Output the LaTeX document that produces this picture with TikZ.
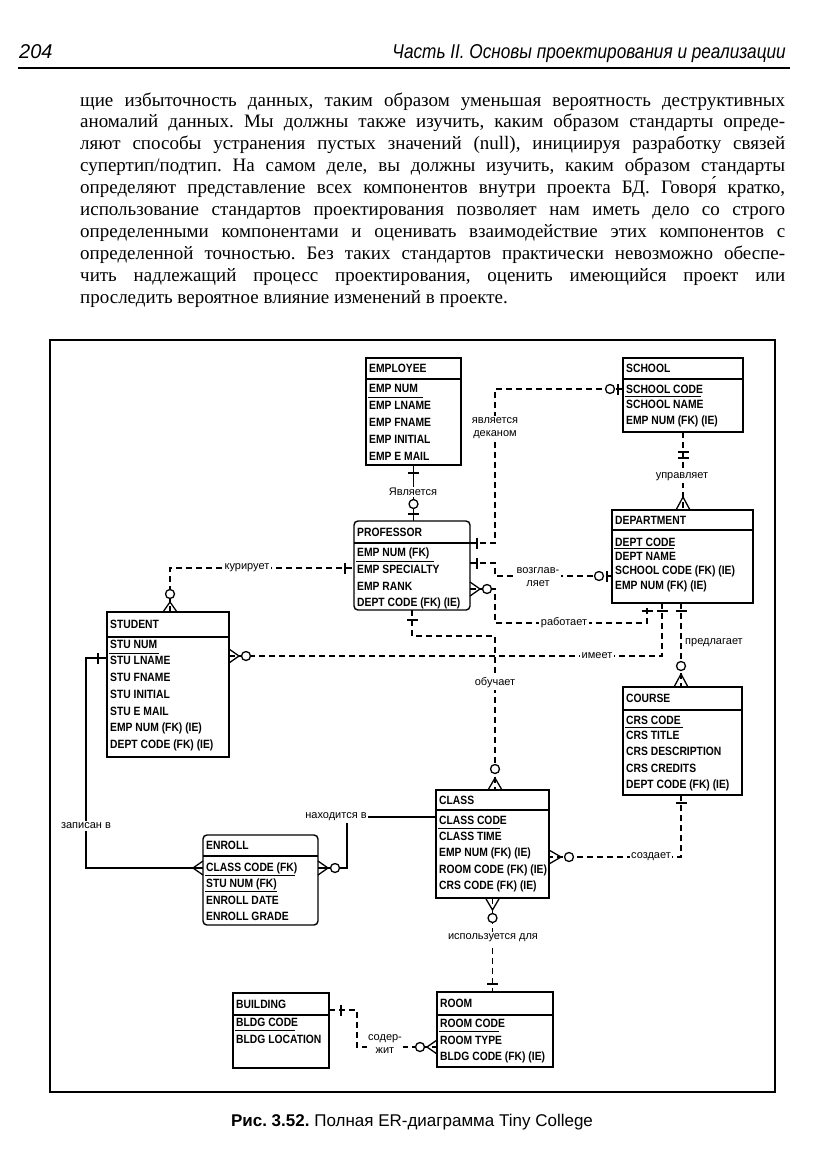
\documentclass[tikz,border=0pt]{standalone}
\usepackage{fontspec}
\setmainfont{Liberation Serif}
\newfontfamily\hsans{Liberation Sans}
\newfontfamily\efam[FakeStretch=0.86]{Liberation Sans}
\usetikzlibrary{calc}
\frenchspacing
\tikzset{
  ebox/.style={draw, line width=1.4pt, inner sep=0pt, outer sep=0pt, anchor=north west},
  etxt/.style={font=\efam\bfseries\fontsize{12}{12}\selectfont, anchor=west, inner sep=0pt},
  divline/.style={line width=1.1pt},
  ulline/.style={line width=0.9pt},
  rel/.style={line width=1.2pt},
  reld/.style={line width=1.2pt, dash pattern=on 6pt off 4pt},
  mk/.style={line width=1.3pt, solid},
  lbl/.style={font=\hsans\fontsize{11}{12.5}\selectfont, fill=white, inner sep=1.5pt, align=center},
  bodytxt/.style={font=\fontsize{19}{22}\selectfont, anchor=base west, inner sep=0pt},
  pics/onebar/.style={code={\draw[mk] (#1,-5.5) -- (#1,5.5);}},
  pics/crow/.style={code={\draw[mk] (0,-7) -- (#1,0) -- (0,7);}},
  pics/zc/.style={code={\draw[mk,fill=white] (#1,0) circle (4.5pt);}},
}
\newcommand\mkentity[8][]{%
  \node[ebox,#1,minimum width=#5pt,minimum height=#6pt] (#2) at (#3,#4) {};
  \draw[divline] ($(#2.north west)+(0,#7)$) -- ($(#2.north east)+(0,#7)$);
  \node[etxt] (#2-title) at ($(#2.north west)+(3,#7/2)$) {#8};
}
\newcommand\erow[3]{\node[etxt] (#1-#2) at ($(#1.north west)+(3,#2)$) {#3};}
\newcommand\eul[3]{\draw[ulline] ($(#1.north west)+(2,#2)$) -- ++(#3,0);}
\begin{document}
\begin{tikzpicture}[x=1pt,y=-1pt]
\useasboundingbox (0,0) rectangle (831,1175);
\fill[white] (0,0) rectangle (831,1175);

% running head
\node[anchor=base west, inner sep=0pt, font=\hsans\itshape\fontsize{20}{20}\selectfont] (pgnum) at (19,58) {204};
\node[anchor=base east, inner sep=0pt, font=\hsans\itshape\fontsize{20}{20}\selectfont] (runhead) at (786,58) {\scalebox{0.86}[1]{Часть II. Основы проектирования и реализации}};
\draw[line width=2pt] (18,68) -- (790,68);

% body text
\node[bodytxt] (t1) at (80,106) {\makebox[705pt][s]{щие избыточность данных, таким образом уменьшая вероятность деструктивных}};
\node[bodytxt] (t2) at (80,127.9) {\makebox[705pt][s]{аномалий данных. Мы должны также изучить, каким образом стандарты опреде-}};
\node[bodytxt] (t3) at (80,149.8) {\makebox[705pt][s]{ляют способы устранения пустых значений (null), инициируя разработку связей}};
\node[bodytxt] (t4) at (80,171.7) {\makebox[705pt][s]{супертип/подтип. На самом деле, вы должны изучить, каким образом стандарты}};
\node[bodytxt] (t5) at (80,193.6) {\makebox[705pt][s]{определяют представление всех компонентов внутри проекта БД. Говоря́ кратко,}};
\node[bodytxt] (t6) at (80,215.5) {\makebox[705pt][s]{использование стандартов проектирования позволяет нам иметь дело со строго}};
\node[bodytxt] (t7) at (80,237.4) {\makebox[705pt][s]{определенными компонентами и оценивать взаимодействие этих компонентов с}};
\node[bodytxt] (t8) at (80,259.3) {\makebox[705pt][s]{определенной точностью. Без таких стандартов практически невозможно обеспе-}};
\node[bodytxt] (t9) at (80,281.2) {\makebox[705pt][s]{чить надлежащий процесс проектирования, оценить имеющийся проект или}};
\node[bodytxt] (t10) at (80,303.1) {проследить вероятное влияние изменений в проекте.};

% frame
\draw[line width=1.3pt] (50,340) rectangle (775,1092);

% entities
\mkentity{employee}{366}{358}{95}{107}{21}{EMPLOYEE}
\erow{employee}{30}{EMP NUM}\eul{employee}{39}{55}
\erow{employee}{47}{EMP LNAME}
\erow{employee}{64}{EMP FNAME}
\erow{employee}{81}{EMP INITIAL}
\erow{employee}{98}{EMP E MAIL}

\mkentity{school}{623}{358}{120}{74}{21}{SCHOOL}
\erow{school}{31}{SCHOOL CODE}\eul{school}{38}{76}
\erow{school}{46}{SCHOOL NAME}
\erow{school}{63}{EMP NUM (FK) (IE)}

\mkentity[rounded corners=4pt]{professor}{354}{521}{116}{89}{22}{PROFESSOR}
\erow{professor}{32}{EMP NUM (FK)}\eul{professor}{40}{78}
\erow{professor}{48}{EMP SPECIALTY}
\erow{professor}{65}{EMP RANK}
\erow{professor}{82}{DEPT CODE (FK) (IE)}

\mkentity{department}{612}{510}{141}{93}{20}{DEPARTMENT}
\erow{department}{32}{DEPT CODE}\eul{department}{38}{60}
\erow{department}{46}{DEPT NAME}
\erow{department}{61}{SCHOOL CODE (FK) (IE)}
\erow{department}{76}{EMP NUM (FK) (IE)}

\mkentity{student}{107}{612}{122}{145}{25}{STUDENT}
\erow{student}{32}{STU NUM}\eul{student}{41}{50}
\erow{student}{48}{STU LNAME}
\erow{student}{65}{STU FNAME}
\erow{student}{82}{STU INITIAL}
\erow{student}{99}{STU E MAIL}
\erow{student}{116}{EMP NUM (FK) (IE)}
\erow{student}{133}{DEPT CODE (FK) (IE)}

\mkentity{course}{623}{687}{119}{108}{23}{COURSE}
\erow{course}{33}{CRS CODE}\eul{course}{40}{58}
\erow{course}{48}{CRS TITLE}
\erow{course}{64}{CRS DESCRIPTION}
\erow{course}{81}{CRS CREDITS}
\erow{course}{98}{DEPT CODE (FK) (IE)}

\mkentity{class}{436}{790}{113}{108}{20}{CLASS}
\erow{class}{30}{CLASS CODE}\eul{class}{38}{62}
\erow{class}{46}{CLASS TIME}
\erow{class}{63}{EMP NUM (FK) (IE)}
\erow{class}{80}{ROOM CODE (FK) (IE)}
\erow{class}{96}{CRS CODE (FK) (IE)}

\mkentity[rounded corners=4pt]{enroll}{203}{835}{115}{90}{21}{ENROLL}
\erow{enroll}{33}{CLASS CODE (FK)}\eul{enroll}{40}{90}
\erow{enroll}{49}{STU NUM (FK)}\eul{enroll}{56}{72}
\erow{enroll}{65}{ENROLL DATE}
\erow{enroll}{81}{ENROLL GRADE}

\mkentity{room}{437}{992}{116}{75}{23}{ROOM}
\erow{room}{31}{ROOM CODE}\eul{room}{39}{60}
\erow{room}{48}{ROOM TYPE}
\erow{room}{65}{BLDG CODE (FK) (IE)}

\mkentity{building}{233}{993}{96}{75}{22}{BUILDING}
\erow{building}{29}{BLDG CODE}\eul{building}{37}{60}
\erow{building}{46}{BLDG LOCATION}

% helper coordinates
\coordinate (trunk) at (495,600);
\coordinate (pDean) at ($(professor.north east)+(0,22)$);
\coordinate (sDean) at ($(school.north west)+(0,31)$);
\coordinate (pHead) at ($(professor.north east)+(0,42)$);
\coordinate (dHead) at ($(department.north west)+(0,66)$);
\coordinate (pWork) at ($(professor.north east)+(0,68)$);
\coordinate (dWork) at ($(department.south west)+(35,0)$);
\coordinate (wCorner) at ($(dWork)+(0,20)$);
\coordinate (sHas) at ($(student.north east)+(0,44)$);
\coordinate (dHas) at ($(department.south west)+(50,0)$);
\coordinate (dOff) at ($(department.south west)+(69,0)$);
\coordinate (cCr) at ($(course.south west)+(58,0)$);
\coordinate (clCr) at ($(class.north east)+(0,67)$);
\coordinate (tCorner) at ($(professor.south)+(0,26)$);
\coordinate (sAdv) at ($(student.north west)+(63,0)$);
\coordinate (pAdv) at ($(professor.north west)+(0,47)$);
\coordinate (sEn) at ($(student.north west)+(0,46)$);
\coordinate (eEn) at ($(enroll.north west)+(0,33)$);
\coordinate (enX) at (86,700);
\coordinate (eLoc) at ($(enroll.north east)+(0,33)$);
\coordinate (cLoc) at ($(class.north west)+(0,27)$);
\coordinate (locX) at (347,850);
\coordinate (bC) at ($(building.north east)+(0,17)$);
\coordinate (rC) at ($(room.north west)+(0,55)$);
\coordinate (cX) at (357,1030);

% connectors
\draw[rel] (employee.south) -- (employee.south |- professor.north);
\draw[reld] (pDean) -- (pDean -| trunk) -- (sDean -| trunk) -- (sDean);
\draw[reld] (pHead) -- (pHead -| trunk) -- (dHead -| trunk) -- (dHead);
\draw[reld] (pWork) -- (pWork -| trunk) -- (wCorner -| trunk) -- (wCorner) -- (dWork);
\draw[reld] (sHas) -- (sHas -| dHas) -- (dHas);
\draw[reld] (dOff) -- (dOff |- course.north);
\draw[reld] (cCr) -- (cCr |- clCr) -- (clCr);
\draw[reld] (professor.south) -- (tCorner) -- (tCorner -| trunk) -- (trunk |- class.north);
\draw[reld] (sAdv) -- (sAdv |- pAdv) -- (pAdv);
\draw[rel] (sEn) -- (sEn -| enX) -- (eEn -| enX) -- (eEn);
\draw[rel] (eLoc) -- (eLoc -| locX) -- (cLoc -| locX) -- (cLoc);
\draw[reld] (class.south) -- (class.south |- room.north);
\draw[reld] (bC) -- (bC -| cX) -- (rC -| cX) -- (rC);
\draw[reld] (school.south) -- (school.south |- department.north);

% labels
\node[lbl] (lIs) at (413,492) {Является};
\node[lbl] (lDean) at (495,428) {является\\деканом};
\node[lbl] (lHead) at (538,577) {возглав-\\ляет};
\node[lbl] (lWork) at (564,623) {работает};
\node[lbl] (lHas) at (597,656) {имеет};
\node[lbl, fill=none, anchor=west, inner sep=1pt] (lOff) at (684,643) {предлагает};
\node[lbl] (lCr) at (651,857) {создает};
\node[lbl] (lT) at (495,683) {обучает};
\node[lbl] (lAdv) at (247,568) {курирует};
\node[lbl] (lEn) at (86,826) {записан в};
\node[lbl] (lLoc) at (336,817) {находится в};
\node[lbl] (lUse) at (493,938) {используется для};
\node[lbl] (lC) at (385,1044) {содер-\\жит};
\node[lbl] (lMan) at (682,477) {управляет};

% cardinality marks
\pic[rotate=-90] at (employee.south) {onebar=8};
\pic[rotate=90] at (employee.south |- professor.north) {onebar=7};
\pic[rotate=90] at (employee.south |- professor.north) {zc=17};
\pic at (pDean) {onebar=7};
\pic[rotate=180] at (sDean) {onebar=5};
\pic[rotate=180] at (sDean) {zc=13};
\pic at (pHead) {onebar=7};
\pic[rotate=180] at (dHead) {onebar=5};
\pic[rotate=180] at (dHead) {zc=13};
\pic at (pWork) {crow=10};
\pic at (pWork) {zc=17};
\pic[rotate=-90] at (dWork) {onebar=8};
\pic at (sHas) {crow=10};
\pic at (sHas) {zc=17};
\pic[rotate=-90] at (dHas) {onebar=8};
\pic[rotate=-90] at (dOff) {onebar=8};
\pic[rotate=90] at (dOff |- course.north) {crow=13};
\pic[rotate=90] at (dOff |- course.north) {zc=21};
\pic[rotate=-90] at (cCr) {onebar=8};
\pic at (clCr) {crow=12};
\pic at (clCr) {zc=20};
\pic[rotate=-90] at (professor.south) {onebar=10};
\pic[rotate=90] at (trunk |- class.north) {crow=12};
\pic[rotate=90] at (trunk |- class.north) {zc=21};
\pic[rotate=90] at (sAdv) {crow=10};
\pic[rotate=90] at (sAdv) {zc=18};
\pic[rotate=180] at (pAdv) {onebar=9};
\pic[rotate=180] at (sEn) {onebar=9};
\pic[rotate=180] at (eEn) {crow=10};
\pic at (eLoc) {crow=10};
\pic at (eLoc) {zc=17};
\pic[rotate=-90] at (class.south) {crow=12};
\pic[rotate=-90] at (class.south) {zc=20};
\pic[rotate=90] at (class.south |- room.north) {onebar=8};
\pic at (bC) {onebar=12};
\pic[rotate=180] at (rC) {crow=10};
\pic[rotate=180] at (rC) {zc=17};
\pic[rotate=-90] at (school.south) {onebar=20};
\pic[rotate=-90] at (school.south) {onebar=26};
\pic[rotate=90] at (school.south |- department.north) {crow=13};

% caption
\node[font=\hsans\fontsize{17}{18}\selectfont, inner sep=0pt] (cap) at (412,1122) {\textbf{Рис. 3.52.} Полная ER-диаграмма Tiny College};
\end{tikzpicture}
\end{document}
